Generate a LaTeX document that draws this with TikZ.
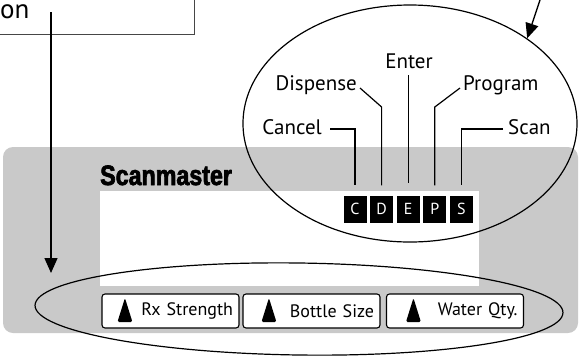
\documentclass[tikz,border=0pt]{standalone}
\usepackage{fontspec}
\setmainfont{PT Sans}
\newfontfamily\brandfont[FakeStretch=0.83,FakeBold=2.5]{Liberation Sans}
\usepackage{tikz}
\usetikzlibrary{arrows.meta,positioning,shapes.geometric,calc}
\definecolor{panelgray}{RGB}{201,201,201}
\definecolor{notegray}{RGB}{70,70,70}

\begin{document}
\begin{tikzpicture}[x=1pt, y=-1pt,
    keylabel/.style={inner sep=0pt, font=\fontsize{21}{24}\selectfont},
    keybox/.style={rectangle, fill=black, text=white, minimum width=23pt, minimum height=27pt, inner sep=0pt, font=\fontsize{16}{18}\selectfont},
    dialbox/.style={rectangle, draw, line width=1.1pt, rounded corners=3pt, fill=white, minimum height=34pt, inner xsep=6pt, text width=125pt, align=right, font=\fontsize{18}{20}\selectfont},
    leader/.style={line width=1.2pt},
    ring/.style={ellipse, draw, line width=1.2pt, inner sep=0pt},
    pointer/.style={line width=1.4pt, -{Triangle[length=15pt,width=13pt]}}]
    \useasboundingbox (0,0) rectangle (579,357);
    \clip (0,0) rectangle (579,357);

    % note box, cut off at the top left
    \node (note) [rectangle, draw=notegray, line width=1pt, minimum width=215pt, minimum height=55pt, anchor=south east] at (195,35) {};
    \node (ontext) [anchor=base west, inner sep=0pt, font=\fontsize{27}{30}\selectfont] at (0,18) {on};

    % the unit
    \node (panel) [rectangle, fill=panelgray, rounded corners=10pt, minimum width=575pt, minimum height=186pt, inner sep=0pt] at (290.5,240) {};
    \node (display) [rectangle, fill=white, minimum width=379pt, minimum height=95pt, inner sep=0pt] at (289.5,238.5) {};
    \node (brand) [anchor=base west, inner sep=0pt, font=\brandfont\bfseries\fontsize{28}{30}\selectfont] at (100,185) {Scanmaster};

    % keys
    \foreach \k [count=\i from 0] in {C,D,E,P,S}
        \node (\k) [keybox] at ({355+26.6*\i},209) {\k};

    \node (cancel) [keylabel, anchor=base east] at (322,134) {Cancel};
    \node (dispense) [keylabel, anchor=base east] at (357,90) {Dispense};
    \node (enter) [keylabel, anchor=base] at (409,68) {Enter};
    \node (program) [keylabel, anchor=base west] at (463,90) {Program};
    \node (scan) [keylabel, anchor=base west] at (508,134) {Scan};

    \draw [leader] ($(cancel.base east)+(8,-5)$) -| ($(C.north)+(0,-10)$);
    \draw [leader] ($(dispense.base east)+(3,-2)$) -- (D.north |- 0,107) -- ($(D.north)+(0,-10)$);
    \draw [leader] (E.north |- 0,75) -- ($(E.north)+(0,-12)$);
    \draw [leader] ($(program.base west)+(-3,-2)$) -- (P.north |- 0,107) -- ($(P.north)+(0,-10)$);
    \draw [leader] ($(scan.base west)+(-5,-5)$) -| ($(S.north)+(0,-10)$);

    \node (keypad) [ring, minimum width=334pt, minimum height=237pt] at (410,123.5) {};

    % dials
    \node (rx) [dialbox] at (170.5,311) {Rx Strength};
    \node (bottle) [dialbox] at (311.5,311) {Bottle Size};
    \node (water) [dialbox] at (455,311) {Water Qty.};
    \foreach \b/\s in {rx/16, bottle/19, water/20}
        \fill [rounded corners=1.5pt] ([xshift=\s pt, yshift=-11pt]\b.west) -- ([xshift=\s pt+7.5pt, yshift=13pt]\b.west) -- ([xshift=\s pt+15pt, yshift=-11pt]\b.west) -- cycle;

    \node (dials) [ring, minimum width=528pt, minimum height=92pt, rotate=-0.8] at (299,309) {};

    \coordinate (notedrop) at (51,12);
    \coordinate (dialpoint) at (51,273);
    \coordinate (keyfrom) at (541,-3);
    \draw [pointer] (notedrop) -- (dialpoint);
    \draw [pointer] (keyfrom) -- (keypad.36);
\end{tikzpicture}
\end{document}
